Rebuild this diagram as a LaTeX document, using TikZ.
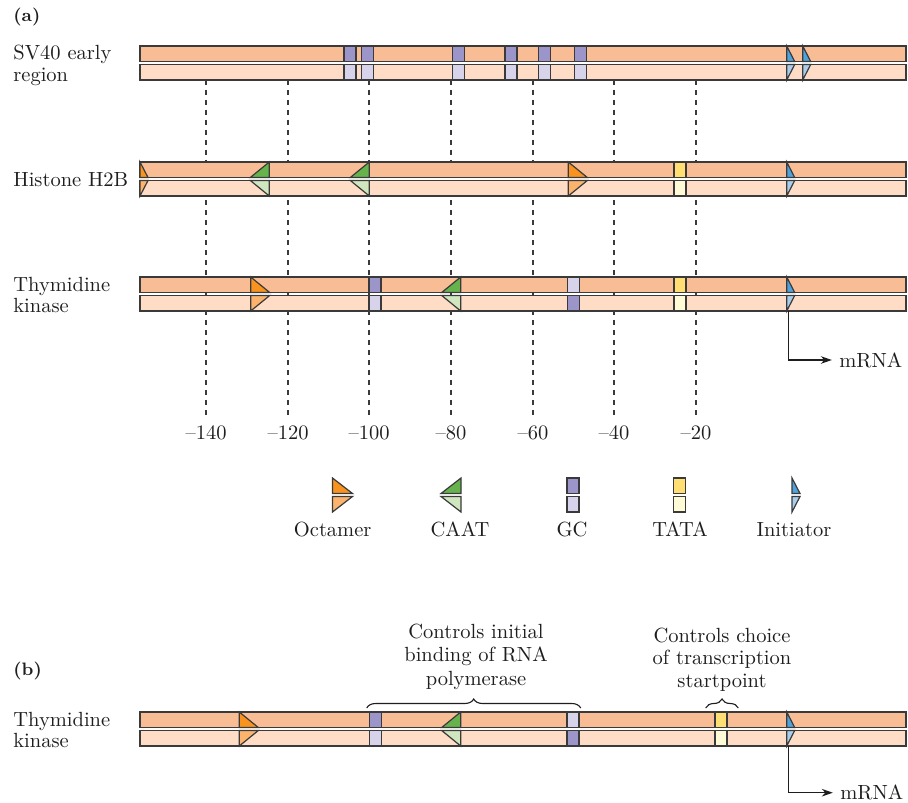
\documentclass[tikz,border=0pt]{standalone}
\usetikzlibrary{arrows.meta,decorations.pathreplacing}
\definecolor{topc}{HTML}{F9BD96}
\definecolor{botc}{HTML}{FEDCC6}
\definecolor{outl}{HTML}{3A3A3A}
\definecolor{gcdark}{HTML}{9C95C9}
\definecolor{gclight}{HTML}{D6D3EA}
\definecolor{tatadark}{HTML}{FFDF73}
\definecolor{tatalight}{HTML}{FFFBD6}
\definecolor{octdark}{HTML}{F7931E}
\definecolor{octlight}{HTML}{FBB36E}
\definecolor{caatdark}{HTML}{66B34E}
\definecolor{caatlight}{HTML}{CFE6BF}
\definecolor{inidark}{HTML}{4FA3DA}
\definecolor{inilight}{HTML}{A8CEEC}
\definecolor{txt}{HTML}{1E1E1E}
\tikzset{
  strandline/.style={draw=outl, line width=0.6pt},
  elem/.style={draw=outl, line width=0.6pt, line join=miter},
  dashline/.style={draw=outl, line width=0.7pt, dash pattern=on 2.5pt off 2.5pt},
  lbl/.style={font=\fontsize{10.25}{11.5}\selectfont, inner sep=0pt, text=txt},
  plbl/.style={font=\fontsize{9}{10}\selectfont\bfseries, inner sep=0pt, text=txt},
  arr/.style={draw=txt, line width=0.6pt, -{Stealth[length=5.5pt,width=3.8pt]}},
  brc/.style={draw=txt, line width=0.55pt, decorate, decoration={brace, amplitude=4.5pt}}
}
% strand pair: top y
\newcommand{\DNApair}[1]{%
  \draw[strandline, fill=topc] (140,#1) rectangle (906,#1+15.5);
  \draw[strandline, fill=botc] (140,#1+18.5) rectangle (906,#1+34);}
% box element: x, y, top colour, bottom colour
\newcommand{\BoxEl}[4]{%
  \draw[elem, fill=#3] (#1,#2) rectangle (#1+12,#2+15.5);
  \draw[elem, fill=#4] (#1,#2+18.5) rectangle (#1+12,#2+34);}
% right pointing element: x-left, y, width, dark, light
\newcommand{\RightEl}[5]{%
  \draw[elem, fill=#4] (#1,#2) -- (#1,#2+15.5) -- (#1+#3,#2+15.5) -- cycle;
  \draw[elem, fill=#5] (#1,#2+18.5) -- (#1+#3,#2+18.5) -- (#1,#2+34) -- cycle;}
% left pointing element: x-right, y, width, dark, light
\newcommand{\LeftEl}[5]{%
  \draw[elem, fill=#4] (#1,#2) -- (#1,#2+15.5) -- (#1-#3,#2+15.5) -- cycle;
  \draw[elem, fill=#5] (#1,#2+18.5) -- (#1-#3,#2+18.5) -- (#1,#2+34) -- cycle;}
\begin{document}
\begin{tikzpicture}[x=0.5pt,y=-0.5pt]
\useasboundingbox (0,0) rectangle (908,802);
\fill[white] (0,0) rectangle (908,802);

% ---------- (a) ----------
\node[plbl, anchor=base west] (pa) at (13,22) {(a)};

% dashed scale lines and labels
\foreach \xx/\lab in {206/140,288/120,369/100,451/80,533/60,614/40,696/20}{
  \draw[dashline] (\xx,80) -- (\xx,415);
  \node[lbl, anchor=base] (tick\lab) at (\xx,439) {\textendash\lab};
}

% SV40 early region
\node[lbl, anchor=base west] (sv1) at (13,60) {SV40 early};
\node[lbl, anchor=base west] (sv2) at (13,81.5) {region};
\DNApair{46}
\foreach \gx in {344,361.3,452.7,505,538.3,574.7}{\BoxEl{\gx}{46}{gcdark}{gclight}}
\RightEl{786.7}{46}{8}{inidark}{inilight}
\RightEl{802.7}{46}{8}{inidark}{inilight}

% Histone H2B
\node[lbl, anchor=base west] (h2b) at (13,186) {Histone H2B};
\DNApair{162}
\RightEl{140}{162}{8}{octdark}{octlight}
\LeftEl{269.3}{162}{19}{caatdark}{caatlight}
\LeftEl{369.3}{162}{19}{caatdark}{caatlight}
\RightEl{568.3}{162}{19}{octdark}{octlight}
\BoxEl{674}{162}{tatadark}{tatalight}
\RightEl{786.7}{162}{8}{inidark}{inilight}

% Thymidine kinase (a)
\node[lbl, anchor=base west] (tka1) at (13,291) {Thymidine};
\node[lbl, anchor=base west] (tka2) at (13,312.5) {kinase};
\DNApair{277}
\RightEl{250.7}{277}{19}{octdark}{octlight}
\BoxEl{369}{277}{gcdark}{gclight}
\LeftEl{460.7}{277}{19}{caatdark}{caatlight}
\BoxEl{567.3}{277}{gclight}{gcdark}
\BoxEl{674}{277}{tatadark}{tatalight}
\RightEl{786.7}{277}{8}{inidark}{inilight}
\coordinate (tkainit) at (788.2,311);
\node[lbl, anchor=west] (mrnaA) at (839,360) {mRNA};
\draw[arr] (tkainit) |- ([xshift=-3.6pt]mrnaA.west);

% legend
\RightEl{332.5}{478}{20}{octdark}{octlight}
\LeftEl{461}{478}{20}{caatdark}{caatlight}
\BoxEl{567}{478}{gcdark}{gclight}
\BoxEl{673.5}{478}{tatadark}{tatalight}
\RightEl{792}{478}{8}{inidark}{inilight}
\node[lbl, anchor=base] (lgoct) at (332.7,536) {Octamer};
\node[lbl, anchor=base] (lgcaat) at (460,536) {CAAT};
\node[lbl, anchor=base] (lggc) at (572,536) {GC};
\node[lbl, anchor=base] (lgtata) at (680,536) {TATA};
\node[lbl, anchor=base] (lgini) at (794,536) {Initiator};

% ---------- (b) ----------
\node[plbl, anchor=base west] (pb) at (13,675.5) {(b)};
\node[lbl, anchor=base west] (tkb1) at (13,726) {Thymidine};
\node[lbl, anchor=base west] (tkb2) at (13,747.5) {kinase};
\DNApair{712}
\RightEl{239.3}{712}{19}{octdark}{octlight}
\BoxEl{369.5}{712}{gcdark}{gclight}
\LeftEl{460.7}{712}{19}{caatdark}{caatlight}
\BoxEl{567}{712}{gclight}{gcdark}
\BoxEl{715}{712}{tatadark}{tatalight}
\RightEl{786.7}{712}{8}{inidark}{inilight}
\coordinate (tkbinit) at (788.2,746);
\node[lbl, anchor=west] (mrnaB) at (840,792.7) {mRNA};
\draw[arr] (tkbinit) |- ([xshift=-3.6pt]mrnaB.west);

% braces and annotations
\coordinate (b1l) at (366.7,708);
\coordinate (b1r) at (580.7,708);
\draw[brc] (b1l) -- (b1r);
\coordinate (b2l) at (705.7,708);
\coordinate (b2r) at (738.3,708);
\draw[brc] (b2l) -- (b2r);
\node[lbl, anchor=base] (c1a) at (476,638) {Controls initial};
\node[lbl, anchor=base] (c1b) at (476,661.5) {binding of RNA};
\node[lbl, anchor=base] (c1c) at (476,685) {polymerase};
\node[lbl, anchor=base] (c2a) at (722,642) {Controls choice};
\node[lbl, anchor=base] (c2b) at (722,664.5) {of transcription};
\node[lbl, anchor=base] (c2c) at (722,687) {startpoint};
\end{tikzpicture}
\end{document}
